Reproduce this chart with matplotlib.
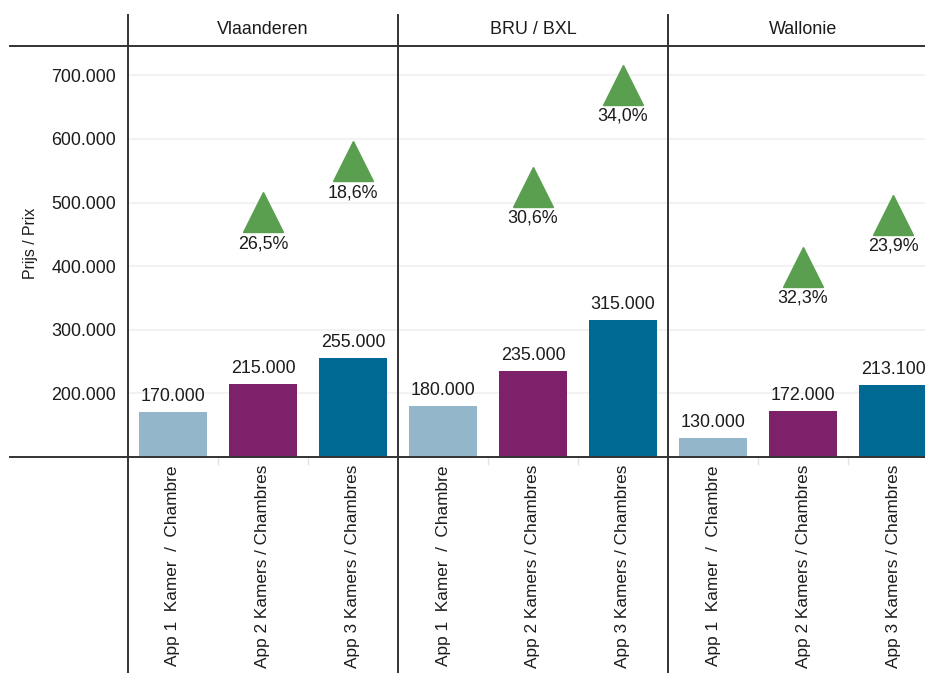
import matplotlib.pyplot as plt
from matplotlib.lines import Line2D
from matplotlib.ticker import FuncFormatter

plt.rcParams['font.family'] = ['Liberation Sans', 'DejaVu Sans']

regions = ['Vlaanderen', 'BRU / BXL', 'Wallonie']
rooms = ['App 1  Kamer  /  Chambre', 'App 2 Kamers / Chambres', 'App 3 Kamers / Chambres']
prices = [170000, 215000, 255000,
          180000, 235000, 315000,
          130000, 172000, 213100]
# increase vs. one room less (none for 1 room)
growth = [None, 26.5, 18.6,
          None, 30.6, 34.0,
          None, 32.3, 23.9]
room_colors = ['#93b6ca', '#7e216b', '#006993']
tri_color = '#5a9f4f'
txt = '#1c1c1c'
line_c = '#333333'
fs = 12.9

W, H = 925, 673
fig = plt.figure(figsize=(W / 100, H / 100), dpi=100)

def fx(px):
    return px / W

def fy(py):
    return 1 - py / H

# axes runs a bit past the right edge, the last bar gets cut off
ax = fig.add_axes([fx(128), fy(457), fx(938 - 128), (457 - 46) / H])

x = list(range(len(prices)))
cols = [room_colors[i % 3] for i in x]
bars = ax.bar(x, prices, width=0.755, color=cols, zorder=2)
ax.set_xlim(-0.5, len(prices) - 0.5)
ax.set_ylim(100000, 746200)

for rect, v in zip(bars, prices):
    ax.annotate(f'{v:,}'.replace(',', '.'),
                (rect.get_x() + rect.get_width() / 2, v),
                xytext=(0, 11.2), textcoords='offset points',
                ha='center', va='center', fontsize=fs, color=txt,
                clip_on=False)

# triangles sit on a second, hidden price axis
ax2 = ax.twinx()
ax2.set_ylim(22500, 345600)
for i, (v, g) in enumerate(zip(prices, growth)):
    if g is None:
        continue
    ax2.plot(i, v, marker='^', markersize=29, color=tri_color,
             linestyle='none', zorder=3)
    ax2.annotate(f'{g:.1f}%'.replace('.', ','), (i, v),
                 xytext=(0, -22.7), textcoords='offset points',
                 ha='center', va='center', fontsize=fs, color=txt)
ax2.axis('off')

ax.set_yticks([200000, 300000, 400000, 500000, 600000, 700000])
ax.yaxis.set_major_formatter(FuncFormatter(lambda v, p: f'{int(v):,}'.replace(',', '.')))
ax.grid(axis='y', color='#f0f0f0', linewidth=1.2, zorder=0)
ax.set_axisbelow(True)
ax.tick_params(axis='y', length=0, pad=8.6, labelsize=fs, labelcolor=txt)

# room labels kept a touch smaller so they fit above the bottom edge
ax.set_xticks(x)
ax.set_xticklabels(rooms * 3, rotation=90, fontsize=12.4, color=txt)
ax.tick_params(axis='x', length=0, pad=5.8)
for s in ax.spines.values():
    s.set_visible(False)

# faint separators between categories under the baseline
seps = [i + 0.5 for i in x[:-1] if (i + 1) % 3 != 0]
ax.vlines(seps, 0, -8 / 411, transform=ax.get_xaxis_transform(),
          color='#e4e4e4', linewidth=1, clip_on=False)

fig.text(fx(30), fy(243), 'Prijs / Prix', rotation=90, ha='center', va='center',
         fontsize=11.4, color=txt)

# panel frame: header rule, baseline and panel separators
for py in (46, 457):
    fig.add_artist(Line2D([fx(10), 1], [fy(py), fy(py)], color=line_c, linewidth=1.4))
for k, name in enumerate(regions):
    px = 128 + 270 * k
    fig.add_artist(Line2D([fx(px), fx(px)], [fy(15), 0], color=line_c, linewidth=1.4))
    fig.text(fx(px + 135), fy(30), name, ha='center', va='center',
             fontsize=fs, color=txt)

fig.savefig('out.png', dpi=100)
